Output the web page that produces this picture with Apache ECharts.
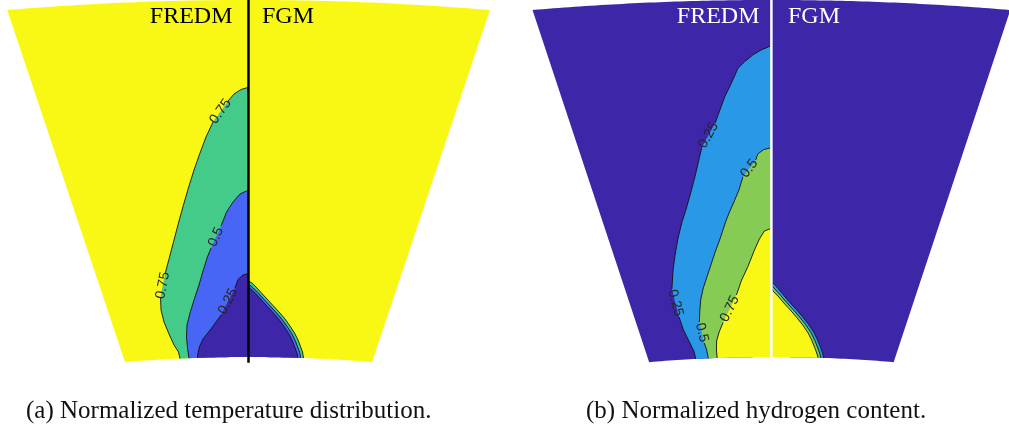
<!DOCTYPE html>
<html>
<head>
<meta charset="utf-8">
<script src="https://cdn.jsdelivr.net/npm/echarts@6/dist/echarts.min.js"></script>
<style>
  html, body { margin: 0; padding: 0; background: #ffffff; }
  #chart { width: 1009px; height: 433px; }
</style>
</head>
<body>
<div id="chart"></div>
<script>
// Cylinder slice geometry (symmetry axis along y, apex at origin)
const halfAngleDeg = 9.5;
const innerRadius = 37.4;
const outerRadius = 73.1;

// Iso-lines of the normalized fields, each running from the symmetry axis (x = 0)
// down to the inner arc. Points are [x, y] in the slice coordinates.

// (a) temperature – FREDM half
const tempFredm075 = [[0, 64.37], [-0.375, 64.15], [-0.725, 63.70], [-1.025, 63.00], [-1.775, 60.90],
  [-2.125, 59.40], [-2.425, 57.80], [-2.725, 56.10], [-2.975, 54.50], [-3.225, 52.80], [-3.475, 51.00],
  [-3.725, 49.10], [-3.975, 47.20], [-4.175, 45.70], [-4.40, 43.40], [-4.375, 42.10], [-4.225, 40.90],
  [-3.975, 39.70], [-3.725, 38.60], [-3.50, 37.90], [-3.425, 37.24]];
const tempFredm050 = [[0, 54.10], [-0.425, 53.70], [-0.76, 52.93], [-1.09, 51.93], [-1.375, 50.50],
  [-1.875, 48.30], [-2.075, 47.30], [-2.275, 46.00], [-2.475, 44.60], [-2.725, 43.10], [-2.925, 41.80],
  [-3.075, 40.60], [-3.10, 39.40], [-3.05, 38.30], [-2.975, 37.28]];
const tempFredm025 = [[0, 45.77], [-0.275, 45.60], [-0.525, 45.15], [-0.675, 44.30], [-1.375, 41.60],
  [-1.875, 40.20], [-2.275, 39.20], [-2.45, 38.45], [-2.525, 37.80], [-2.55, 37.31]];

// (a) temperature – FGM half
const tempFgm075 = [[0, 45.0], [0.175, 44.8], [0.375, 44.4], [0.625, 43.85], [0.925, 43.2], [1.225, 42.55],
  [1.525, 41.9], [1.825, 41.2], [2.075, 40.5], [2.3, 39.8], [2.475, 39.1], [2.6, 38.45], [2.7, 37.9], [2.75, 37.3]];
const tempFgm050 = [[0, 44.72], [0.06, 44.62], [0.24, 44.3], [0.49, 43.8], [0.785, 43.15], [1.085, 42.5],
  [1.385, 41.85], [1.685, 41.15], [1.935, 40.45], [2.16, 39.75], [2.335, 39.05], [2.46, 38.4], [2.56, 37.85], [2.61, 37.31]];
const tempFgm025 = [[0, 44.45], [0.02, 44.4], [0.1, 44.2], [0.35, 43.75], [0.645, 43.1], [0.945, 42.45],
  [1.245, 41.8], [1.545, 41.1], [1.795, 40.4], [2.02, 39.7], [2.195, 39.0], [2.32, 38.35], [2.42, 37.8], [2.47, 37.32]];

// (b) hydrogen – FREDM half
const h2Fredm025 = [[0, 68.53], [-0.525, 68.1], [-0.94, 67.6], [-1.355, 66.93], [-1.69, 66.27], [-2.025, 64.77],
  [-2.355, 63.43], [-2.84, 60.8], [-3.515, 58.35], [-3.665, 57.1], [-3.84, 55.6], [-4.065, 53.9], [-4.29, 52.3],
  [-4.515, 50.9], [-4.715, 49.3], [-4.865, 47.6], [-4.965, 46.1], [-5.025, 44.2], [-4.665, 41.4], [-4.44, 40.1],
  [-4.14, 38.9], [-3.915, 38.0], [-3.815, 37.2]];
const h2Fredm050 = [[0, 58.33], [-0.39, 58.15], [-0.69, 57.7], [-0.79, 57.1], [-1.44, 55.4], [-1.64, 54.1],
  [-1.915, 52.8], [-2.14, 51.8], [-2.315, 50.9], [-2.615, 49.1], [-2.84, 47.9], [-3.04, 46.7], [-3.24, 45.5],
  [-3.44, 44.3], [-3.565, 43.2], [-3.615, 42.1], [-3.64, 40.9], [-3.39, 38.8], [-3.265, 38.1], [-3.19, 37.26]];
const h2Fredm075 = [[0, 50.27], [-0.355, 50.0], [-0.605, 49.2], [-0.855, 48.1], [-1.19, 46.43], [-1.525, 45.0],
  [-1.765, 43.6], [-2.44, 40.85], [-2.64, 39.9], [-2.765, 39.0], [-2.775, 38.1], [-2.74, 37.3]];

// (b) hydrogen – FGM half
const h2Fgm025 = [[0, 44.85], [0.16, 44.65], [0.36, 44.2], [0.61, 43.6], [0.91, 42.9], [1.235, 42.2], [1.56, 41.45],
  [1.86, 40.7], [2.135, 39.9], [2.335, 39.1], [2.485, 38.35], [2.585, 37.8], [2.635, 37.31]];
const h2Fgm050 = [[0, 44.57], [0.04, 44.5], [0.22, 44.1], [0.47, 43.55], [0.77, 42.85], [1.095, 42.15], [1.42, 41.4],
  [1.72, 40.65], [1.995, 39.85], [2.195, 39.05], [2.345, 38.3], [2.445, 37.75], [2.495, 37.32]];
const h2Fgm075 = [[0, 44.3], [0.01, 44.28], [0.08, 44.0], [0.33, 43.5], [0.63, 42.8], [0.955, 42.1], [1.28, 41.35],
  [1.58, 40.6], [1.855, 39.8], [2.055, 39.0], [2.205, 38.25], [2.305, 37.7], [2.355, 37.33]];

// Inline contour labels: [segment index along the line, reading direction]
const tempFredm075Labels = [[3, 'up'], [13, 'up']];
const tempFredm050Labels = [[4, 'up']];
const tempFredm025Labels = [[3, 'up']];
const h2Fredm025Labels = [[7, 'up'], [17, 'down']];
const h2Fredm050Labels = [[3, 'up'], [16, 'down']];
const h2Fredm075Labels = [[6, 'up']];

const panelTitles = ['FREDM', 'FGM'];
const captions = ['(a) Normalized temperature distribution.', '(b) Normalized hydrogen content.'];

// parula-like band colours
const cDark = '#3d26a8';
const cYellow = '#f9f815';
const cBlueA = '#4866f6';
const cGreenA = '#44cb8a';
const cBlueB = '#2998e7';
const cGreenB = '#86cb54';

const th = halfAngleDeg * Math.PI / 180;

function arc(r, a0, a1, n) {
  const pts = [];
  for (let i = 0; i <= n; i++) {
    const a = a0 + (a1 - a0) * i / n;
    pts.push([r * Math.sin(a), r * Math.cos(a)]);
  }
  return pts;
}
const sectorOutline = arc(outerRadius, -th, th, 90).concat(arc(innerRadius, th, -th, 60));

// close an iso-line into a region: along the inner arc back to the axis
function regionOutline(pts) {
  const e = pts[pts.length - 1];
  const a = Math.atan2(e[0], e[1]);
  return pts.concat(arc(innerRadius, a, 0, 16));
}

const panels = [
  {
    background: cYellow, divider: '#000000', dividerBottom: innerRadius * Math.cos(th) - 0.05,
    layers: [
      { pts: tempFredm075, text: '0.75', color: cGreenA, labels: tempFredm075Labels },
      { pts: tempFredm050, text: '0.5', color: cBlueA, labels: tempFredm050Labels },
      { pts: tempFredm025, text: '0.25', color: cDark, labels: tempFredm025Labels },
      { pts: tempFgm075, color: cGreenA, labels: [] },
      { pts: tempFgm050, color: cBlueA, labels: [] },
      { pts: tempFgm025, color: cDark, labels: [] }
    ]
  },
  {
    background: cDark, divider: '#ffffff', dividerBottom: innerRadius,
    layers: [
      { pts: h2Fredm025, text: '0.25', color: cBlueB, labels: h2Fredm025Labels },
      { pts: h2Fredm050, text: '0.5', color: cGreenB, labels: h2Fredm050Labels },
      { pts: h2Fredm075, text: '0.75', color: cYellow, labels: h2Fredm075Labels },
      { pts: h2Fgm025, color: cBlueB, labels: [] },
      { pts: h2Fgm050, color: cGreenB, labels: [] },
      { pts: h2Fgm075, color: cYellow, labels: [] }
    ]
  }
];

function makeRenderItem(panel) {
  return function (params, api) {
    const px = p => api.coord(p);
    const children = [];
    children.push({ type: 'polygon', shape: { points: sectorOutline.map(px) }, style: { fill: panel.background } });
    panel.layers.forEach(l => {
      children.push({ type: 'polygon', shape: { points: regionOutline(l.pts).map(px) }, style: { fill: l.color } });
    });
    panel.layers.forEach(l => {
      const P = l.pts.map(px);
      const breaks = l.labels.map(d => d[0]);
      let start = 0;
      breaks.concat([P.length - 1]).forEach(b => {
        const seg = P.slice(start, b + 1);
        if (seg.length > 1) {
          children.push({ type: 'polyline', shape: { points: seg },
            style: { stroke: '#111111', lineWidth: 0.9, fill: null } });
        }
        start = b + 1;
      });
      l.labels.forEach(d => {
        const a = P[d[0]], b = P[d[0] + 1];
        let vx = b[0] - a[0], vy = b[1] - a[1];
        if ((d[1] === 'up' && vy > 0) || (d[1] === 'down' && vy < 0)) { vx = -vx; vy = -vy; }
        children.push({
          type: 'text',
          x: (a[0] + b[0]) / 2, y: (a[1] + b[1]) / 2,
          rotation: Math.atan2(-vy, vx),
          style: { text: l.text, fill: '#262626', font: '14px "Liberation Sans", Arial, sans-serif',
            textAlign: 'center', align: 'center', textVerticalAlign: 'middle', verticalAlign: 'middle' }
        });
      });
    });
    const t = px([0, outerRadius]);
    const btm = px([0, panel.dividerBottom]);
    children.push({ type: 'line', shape: { x1: t[0], y1: t[1] - 2, x2: btm[0], y2: btm[1] },
      style: { stroke: panel.divider, lineWidth: 2.5 } });
    return { type: 'group', children };
  };
}

const chart = echarts.init(document.getElementById('chart'), null, { renderer: 'canvas' });

const serif = '"Liberation Serif", "DejaVu Serif", serif';
function label(text, x, y, align, color, size) {
  return { type: 'text', x, y, z: 100, zlevel: 0,
    style: { text, fill: color, font: size + 'px ' + serif,
      textAlign: align, align: align, textVerticalAlign: 'middle', verticalAlign: 'middle' } };
}

chart.setOption({
  animation: false,
  backgroundColor: '#ffffff',
  grid: [
    { left: 8.5, top: 0, width: 480, height: 360 },
    { left: 533.8, top: 0, width: 480, height: 360 }
  ],
  xAxis: [
    { type: 'value', gridIndex: 0, min: -12, max: 12, show: false },
    { type: 'value', gridIndex: 1, min: -12, max: 12, show: false }
  ],
  yAxis: [
    { type: 'value', gridIndex: 0, min: 37.1, max: 73.1, show: false },
    { type: 'value', gridIndex: 1, min: 37.1, max: 73.1, show: false }
  ],
  series: panels.map((p, i) => ({
    type: 'custom', xAxisIndex: i, yAxisIndex: i, clip: false, silent: true, z: 2,
    data: [[0, innerRadius]],
    renderItem: makeRenderItem(p)
  })),
  graphic: {
    elements: [
      label(panelTitles[0], 232.5, 16.7, 'right', '#000000', 24),
      label(panelTitles[1], 262, 16.7, 'left', '#000000', 24),
      label(panelTitles[0], 759.5, 16.7, 'right', '#ffffff', 24),
      label(panelTitles[1], 788, 16.7, 'left', '#ffffff', 24),
      label(captions[0], 26, 411, 'left', '#111111', 25),
      label(captions[1], 586, 411, 'left', '#111111', 25)
    ]
  }
});
</script>
</body>
</html>
